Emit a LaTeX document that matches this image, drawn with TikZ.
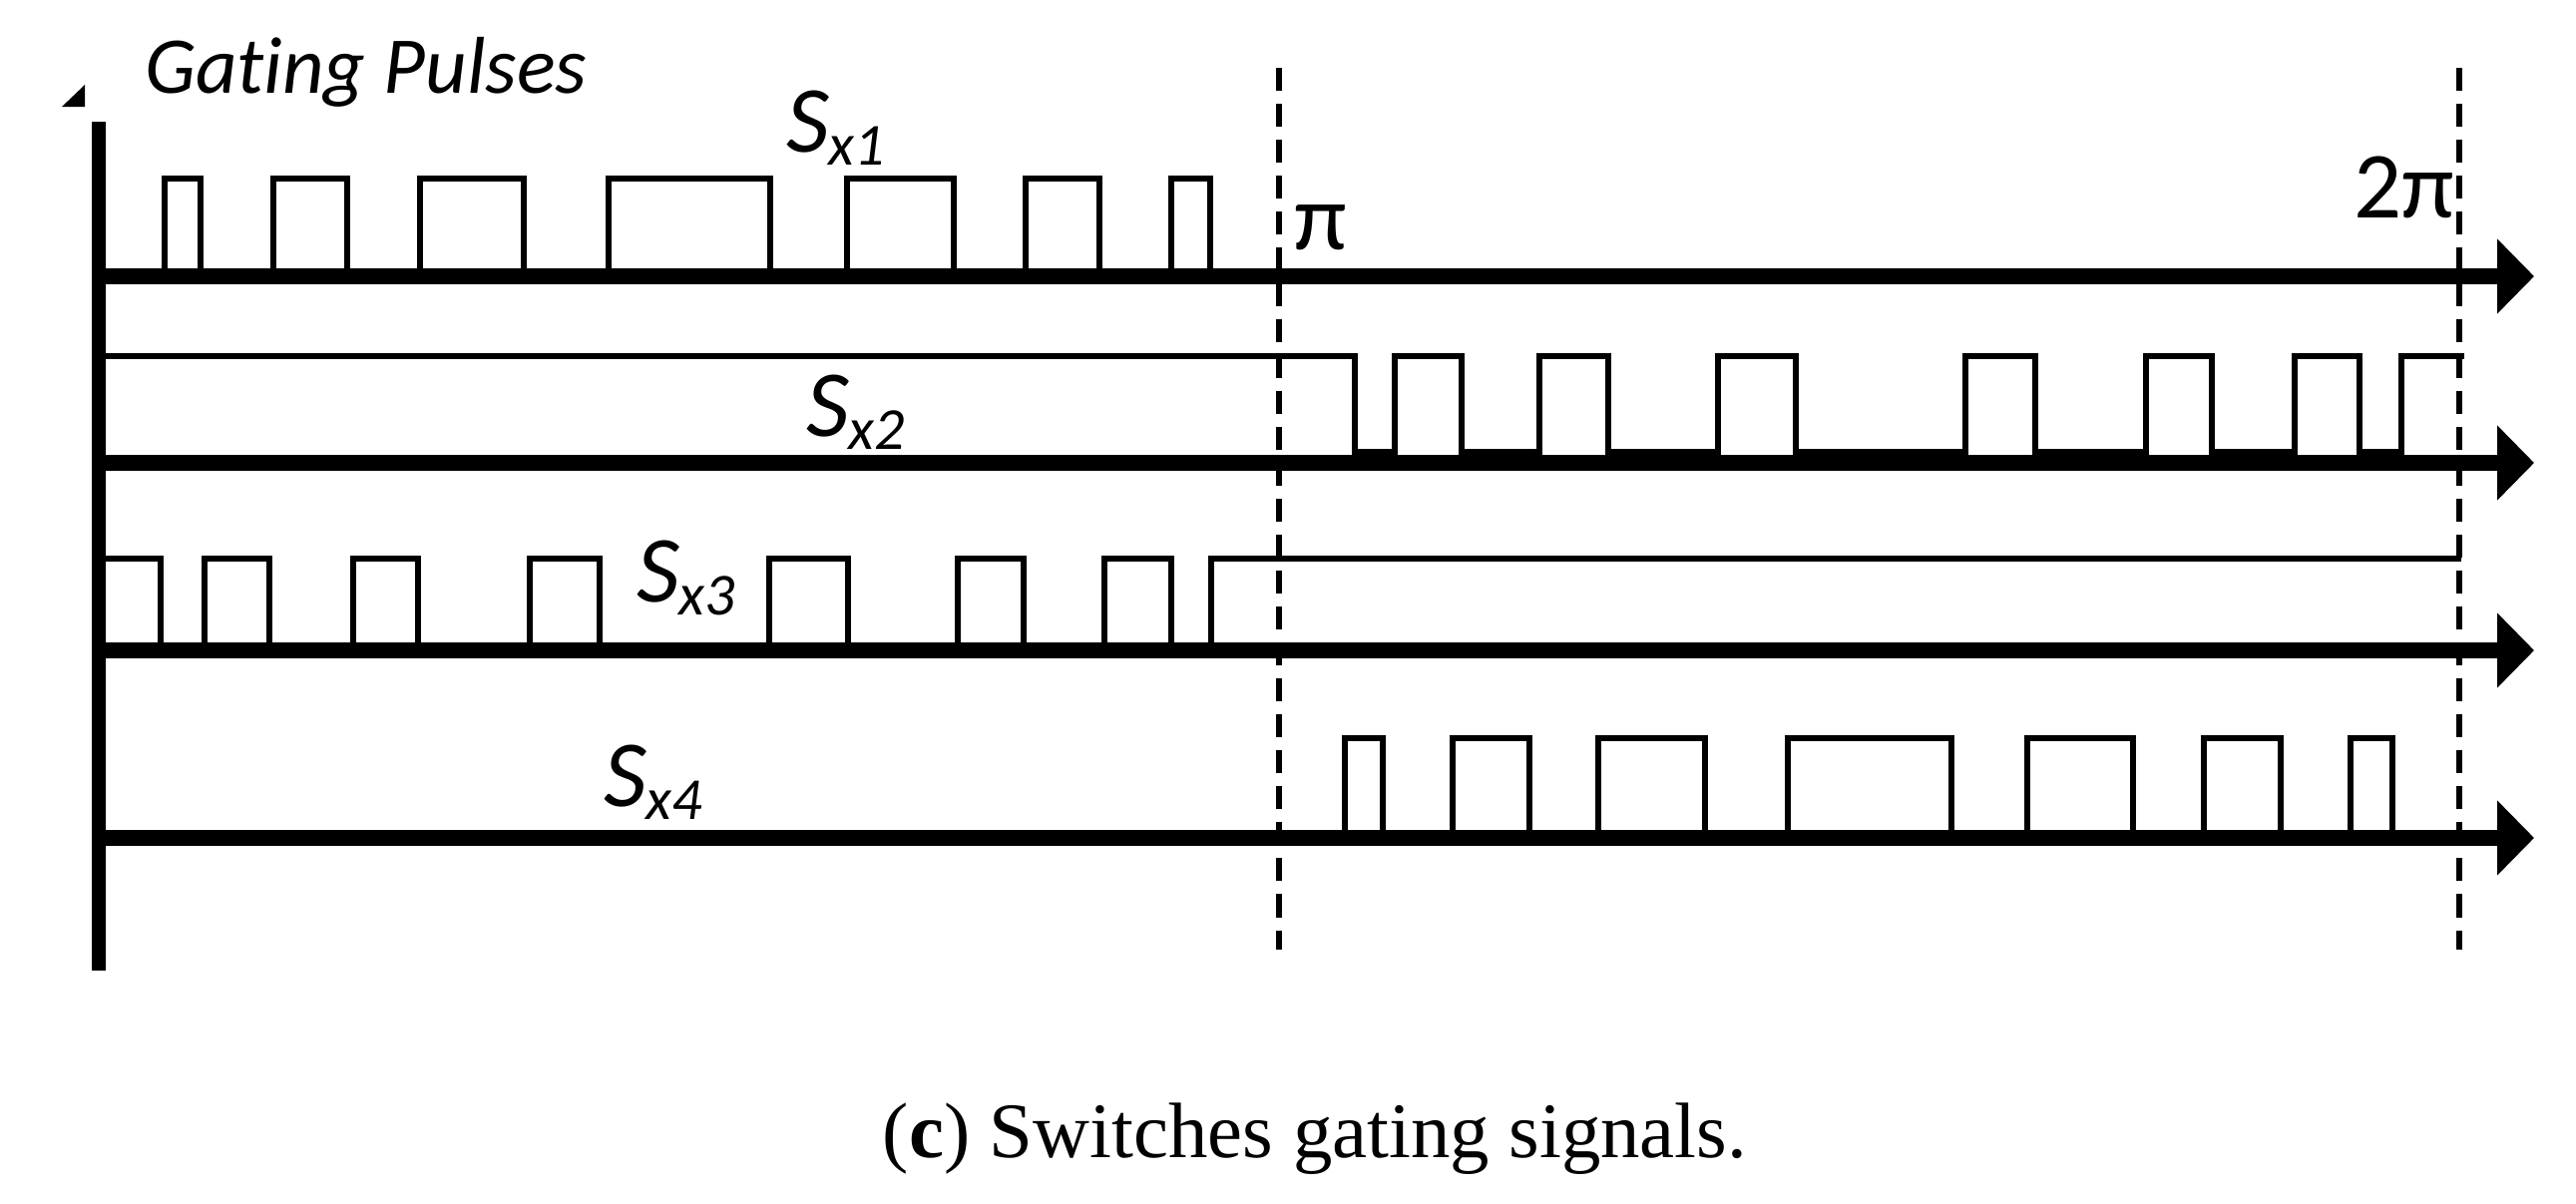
\documentclass[tikz,border=0pt]{standalone}
\usepackage{fontspec}
\setmainfont[Ligatures=NoCommon]{Carlito}
\newfontfamily\capfont{Liberation Serif}
\usetikzlibrary{arrows.meta}

\newcommand{\gatesig}[1]{\textit{S}\raisebox{-0.13cm}{\fontsize{17}{17}\selectfont\itshape x#1}}

\begin{document}
\begin{tikzpicture}[
  x=0.01cm, y=-0.01cm,
  every node/.style={inner sep=0pt, outer sep=0pt},
  timeaxis/.style={line width=0.16cm, -{Triangle[length=0.37cm, width=0.73cm]}},
  pulse/.style={line width=0.06cm, line join=miter},
  phaseline/.style={line width=0.06cm, dash pattern=on 0.23cm off 0.13cm},
  siglabel/.style={anchor=base west, font=\fontsize{27}{30}\selectfont}
]
\useasboundingbox (0,0) rectangle (2582,1206);

% Vertical axis
\coordinate (vtop) at (99,122);
\coordinate (vbot) at (99,973);
\draw[line width=0.13cm] (vtop) -- (vbot);
\fill (62,107) -- (85,107) -- (85,85) -- cycle;

\node[anchor=base west, font=\fontsize{23}{28}\selectfont\itshape] (title) at (145,93) {Gating Pulses};

% Time axes
\foreach \n/\y in {1/277, 2/464, 3/652, 4/840} {
  \coordinate (o\n) at (99,\y);
  \coordinate (e\n) at (2540,\y);
  \draw[timeaxis] (o\n) -- (e\n);
}

% Half periods
\coordinate (pitop) at (1282,68);
\coordinate (pibot) at (1282,952);
\coordinate (twopitop) at (2465,68);
\coordinate (twopibot) at (2465,952);
\draw[phaseline] (pitop) -- (pibot);
\draw[phaseline] (twopitop) -- (twopibot);
\node[siglabel] (pi) at (1297,250) {π};
\node[siglabel] (twopi) at (2359,218) {2π};

% Sx1
\foreach \a/\b in {165/201, 274/348, 421/525, 610/772, 849/956, 1028/1102, 1174/1213}
  \draw[pulse] (\a,277) |- (\b,179) -- (\b,277);
\node[siglabel] (sx1) at (788,152) {\gatesig{1}};

% Sx2
\draw[pulse] (99,357) -- (1358,357) -- (1358,453)
  \foreach \a/\b in {1398/1465, 1543/1612, 1722/1800, 1970/2040, 2151/2217, 2300/2365} {
    -- (\a,453) -- (\a,357) -- (\b,357) -- (\b,453)
  }
  -- (2407,453) -- (2407,357) -- (2470,357);
\node[siglabel] (sx2) at (808,437) {\gatesig{2}};

% Sx3
\draw[pulse] (99,560) -- (161,560) -- (161,652);
\foreach \a/\b in {205/270, 354/419, 531/601, 771/850, 960/1026, 1107/1174}
  \draw[pulse] (\a,652) |- (\b,560) -- (\b,652);
\draw[pulse] (1214,652) -- (1214,560) -- (2467,560);
\node[siglabel] (sx3) at (638,603) {\gatesig{3}};

% Sx4
\foreach \a/\b in {1348/1386, 1456/1533, 1602/1709, 1792/1956, 2032/2138, 2209/2286, 2356/2398}
  \draw[pulse] (\a,840) |- (\b,740) -- (\b,840);
\node[siglabel] (sx4) at (605,808) {\gatesig{4}};

% Caption
\node[anchor=base, font=\capfont\fontsize{22.4}{26}\selectfont] (caption) at (1318,1160) {(\textbf{c}) Switches gating signals.};

\end{tikzpicture}
\end{document}
